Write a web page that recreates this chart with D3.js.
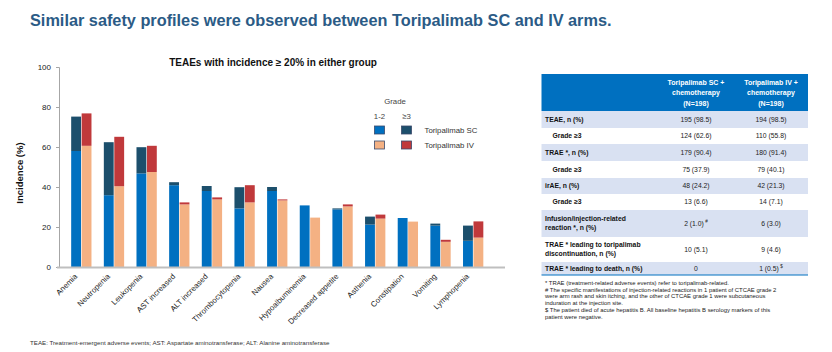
<!DOCTYPE html>
<html>
<head>
<meta charset="utf-8">
<script src="https://cdn.jsdelivr.net/npm/d3@7"></script>
<style>
  body { margin: 0; background: #fff; }
  svg { font-family: "Liberation Sans", Arial, sans-serif; }
</style>
</head>
<body>
<svg id="root" width="832" height="352"></svg>
<script>
// chart data (incidence %)
const events = ['Anemia', 'Neutropenia', 'Leukopenia', 'AST increased', 'ALT increased',
  'Thrombocytopenia', 'Nausea', 'Hypoalbuminemia', 'Decreased appetite', 'Asthenia',
  'Constipation', 'Vomiting', 'Lymphopenia']
const scLow  = [58.0, 35.9, 46.8, 40.9, 38.0, 29.3, 38.0, 30.8, 28.8, 21.2, 24.5, 20.7, 13.1]
const scHigh = [17.2, 26.5, 13.1, 1.5, 2.5, 10.6, 2.0, 0, 0.5, 4.0, 0, 1.0, 7.6]
const ivLow  = [60.6, 40.4, 47.5, 31.3, 33.8, 32.3, 33.3, 24.7, 30.3, 24.2, 22.7, 12.6, 14.7]
const ivHigh = [16.2, 24.7, 13.1, 1.0, 1.0, 8.6, 0.5, 0, 1.0, 2.0, 0, 1.0, 8.1]
const yTicks = [0, 20, 40, 60, 80, 100]

// table data
const colHeads = [['Toripalimab SC +', 'chemotherapy', '(N=198)'], ['Toripalimab IV +', 'chemotherapy', '(N=198)']]
const rowLabels = [['TEAE, n (%)'], ['Grade \u22653'], ['TRAE *, n (%)'], ['Grade \u22653'], ['irAE, n (%)'], ['Grade \u22653'],
  ['Infusion/injection-related', 'reaction *, n (%)'], ['TRAE * leading to toripalimab', 'discontinuation, n (%)'],
  ['TRAE * leading to death, n (%)']]
const scVals = ['195 (98.5)', '124 (62.6)', '179 (90.4)', '75 (37.9)', '48 (24.2)', '13 (6.6)', '2 (1.0)', '10 (5.1)', '0']
const ivVals = ['194 (98.5)', '110 (55.8)', '180 (91.4)', '79 (40.1)', '42 (21.3)', '14 (7.1)', '6 (3.0)', '9 (4.6)', '1 (0.5)']
const scMarks = ['', '', '', '', '', '', '#', '', '']
const ivMarks = ['', '', '', '', '', '', '', '', '$']
const indented = [false, true, false, true, false, true, false, false, false]
const shaded = [true, false, true, false, true, false, true, false, true]
const footnotes = [
  '* TRAE (treatment-related adverse events) refer to toripalimab-related.',
  '# The specific manifestations of injection-related reactions in 1 patient of CTCAE grade 2',
  'were arm rash and skin itching, and the other of CTCAE grade 1 were subcutaneous',
  'induration at the injection site.',
  '$ The patient died of acute hepatitis B. All baseline hepatitis B serology markers of this',
  'patient were negative.'
]

const colors = { scLow: '#0070c0', scHigh: '#1c4f6c', ivLow: '#f4b183', ivHigh: '#c0393b' }
const svg = d3.select('#root')

// Page title
svg.append('text')
  .attr('x', 30).attr('y', 26)
  .attr('font-family', '"Liberation Sans Narrow", "Arial Narrow", sans-serif')
  .attr('font-weight', 'bold').attr('font-size', 16.3)
  .attr('fill', '#2b5b86')
  .text('Similar safety profiles were observed between Toripalimab SC and IV arms.')

// ---- Bar chart ----
const plot = { left: 59, right: 505, top: 67, bottom: 267 }

const x = d3.scaleBand().domain(events).range([65, 489.5]).paddingInner(0.36).paddingOuter(0.18)
const y = d3.scaleLinear().domain([0, 100]).range([plot.bottom, plot.top])
const barW = x.bandwidth() / 2

const g = svg.append('g')

// y axis
const yAxis = g.append('g')
  .attr('transform', `translate(${plot.left},0)`)
  .call(d3.axisLeft(y).tickValues(yTicks).tickSize(3).tickPadding(5))
yAxis.select('.domain').attr('stroke', '#a6a6a6')
yAxis.selectAll('.tick line').attr('stroke', '#a6a6a6')
yAxis.selectAll('.tick text').attr('font-size', 8).attr('fill', '#222')

svg.append('text')
  .attr('transform', `translate(23,${(plot.top + plot.bottom) / 2 + 6}) rotate(-90)`)
  .attr('text-anchor', 'middle').attr('font-weight', 'bold').attr('font-size', 9.5)
  .attr('fill', '#111')
  .text('Incidence (%)')

svg.append('text')
  .attr('x', 273).attr('y', 65.5)
  .attr('text-anchor', 'middle').attr('font-weight', 'bold').attr('font-size', 10)
  .attr('fill', '#111')
  .text('TEAEs with incidence \u2265 20% in either group')

// stacked bars
const stacks = [
  { off: 0, low: scLow, high: scHigh, c1: colors.scLow, c2: colors.scHigh },
  { off: barW, low: ivLow, high: ivHigh, c1: colors.ivLow, c2: colors.ivHigh }
]
stacks.forEach(s => {
  g.append('g').selectAll('rect').data(events).join('rect')
    .attr('x', d => x(d) + s.off + 0.3)
    .attr('width', barW - 0.6)
    .attr('y', (d, i) => y(s.low[i]))
    .attr('height', (d, i) => y(0) - y(s.low[i]))
    .attr('fill', s.c1)
  g.append('g').selectAll('rect').data(events).join('rect')
    .attr('x', d => x(d) + s.off + 0.3)
    .attr('width', barW - 0.6)
    .attr('y', (d, i) => y(s.low[i] + s.high[i]))
    .attr('height', (d, i) => y(s.low[i]) - y(s.low[i] + s.high[i]))
    .attr('fill', s.c2)
})

// x axis line + rotated labels
g.append('line')
  .attr('x1', 57).attr('x2', plot.right)
  .attr('y1', plot.bottom + 0.5).attr('y2', plot.bottom + 0.5)
  .attr('stroke', '#bfbfbf').attr('stroke-width', 2)

g.append('g').selectAll('text').data(events).join('text')
  .attr('transform', d => `translate(${x(d) + x.bandwidth() / 2 - 3.5},${plot.bottom + 10}) rotate(-45)`)
  .attr('text-anchor', 'end').attr('font-size', 7.8).attr('fill', '#222')
  .text(d => d)

// legend
const lg = svg.append('g').attr('font-size', 7.8).attr('fill', '#333')
lg.append('text').attr('x', 395).attr('y', 104).attr('text-anchor', 'middle').attr('fill', '#444').text('Grade')
lg.append('text').attr('x', 379.5).attr('y', 119).attr('text-anchor', 'middle').attr('fill', '#444').text('1-2')
lg.append('text').attr('x', 406.5).attr('y', 119).attr('text-anchor', 'middle').attr('fill', '#444').text('\u22653')
const legRows = [
  { label: 'Toripalimab SC', a: colors.scLow, b: colors.scHigh, y: 126 },
  { label: 'Toripalimab IV', a: colors.ivLow, b: colors.ivHigh, y: 141 }
]
legRows.forEach(r => {
  lg.append('rect').attr('x', 374.5).attr('y', r.y).attr('width', 10).attr('height', 8)
    .attr('fill', r.a).attr('stroke', '#3b4a6b').attr('stroke-width', 0.8)
  lg.append('rect').attr('x', 401.5).attr('y', r.y).attr('width', 10).attr('height', 8)
    .attr('fill', r.b).attr('stroke', '#3b4a6b').attr('stroke-width', 0.8)
  lg.append('text').attr('x', 424.5).attr('y', r.y + 7).attr('fill', '#333').text(r.label)
})

// bottom footnote
svg.append('text')
  .attr('x', 30).attr('y', 345)
  .attr('font-size', 6.2).attr('fill', '#333')
  .text('TEAE: Treatment-emergent adverse events; AST: Aspartate aminotransferase; ALT: Alanine aminotransferase')

// ---- Table ----
const tbl = { left: 541.5, right: 808, top: 74, headBottom: 111 }
const rowEdges = [111, 128, 144, 161, 178, 194, 210, 237, 262, 275]
const colCenters = [696, 771]
const t = svg.append('g')

t.append('rect')
  .attr('x', tbl.left).attr('y', tbl.top)
  .attr('width', tbl.right - tbl.left).attr('height', tbl.headBottom - tbl.top)
  .attr('fill', '#0070c0')

colHeads.forEach((lines, ci) => {
  lines.forEach((ln, li) => {
    t.append('text')
      .attr('x', colCenters[ci]).attr('y', [85, 94.5, 106][li])
      .attr('text-anchor', 'middle').attr('font-size', 7).attr('font-weight', 'bold')
      .attr('fill', '#fff').text(ln)
  })
})

rowLabels.forEach((lines, i) => {
  const top = rowEdges[i], bot = rowEdges[i + 1]
  if (shaded[i]) {
    t.append('rect').attr('x', tbl.left).attr('y', top).attr('width', tbl.right - tbl.left)
      .attr('height', bot - top).attr('fill', '#d9e1f2')
  }
  const mid = (top + bot) / 2
  const lh = 9
  lines.forEach((ln, li) => {
    t.append('text')
      .attr('x', tbl.left + (indented[i] ? 11 : 3.5))
      .attr('y', mid + 2.4 + (li - (lines.length - 1) / 2) * lh)
      .attr('font-size', 6.8).attr('font-weight', 'bold').attr('fill', '#111')
      .text(ln)
  })
  ;[[scVals, scMarks], [ivVals, ivMarks]].forEach(([vals, marks], ci) => {
    const tx = t.append('text')
      .attr('x', colCenters[ci]).attr('y', mid + 2.4)
      .attr('text-anchor', 'middle').attr('font-size', 6.8).attr('fill', '#222')
    tx.append('tspan').text(vals[i])
    if (marks[i]) tx.append('tspan').attr('font-size', 4.5).attr('dx', 1.5).attr('dy', -2.5).text(marks[i])
  })
})
t.append('line')
  .attr('x1', tbl.left).attr('x2', tbl.right)
  .attr('y1', rowEdges[9]).attr('y2', rowEdges[9])
  .attr('stroke', '#0070c0').attr('stroke-width', 1)

// table footnotes
footnotes.forEach((f, i) => {
  t.append('text')
    .attr('x', 545).attr('y', 285 + i * 6.7)
    .attr('font-size', 5.9).attr('fill', '#222')
    .text(f)
})
</script>
</body>
</html>
